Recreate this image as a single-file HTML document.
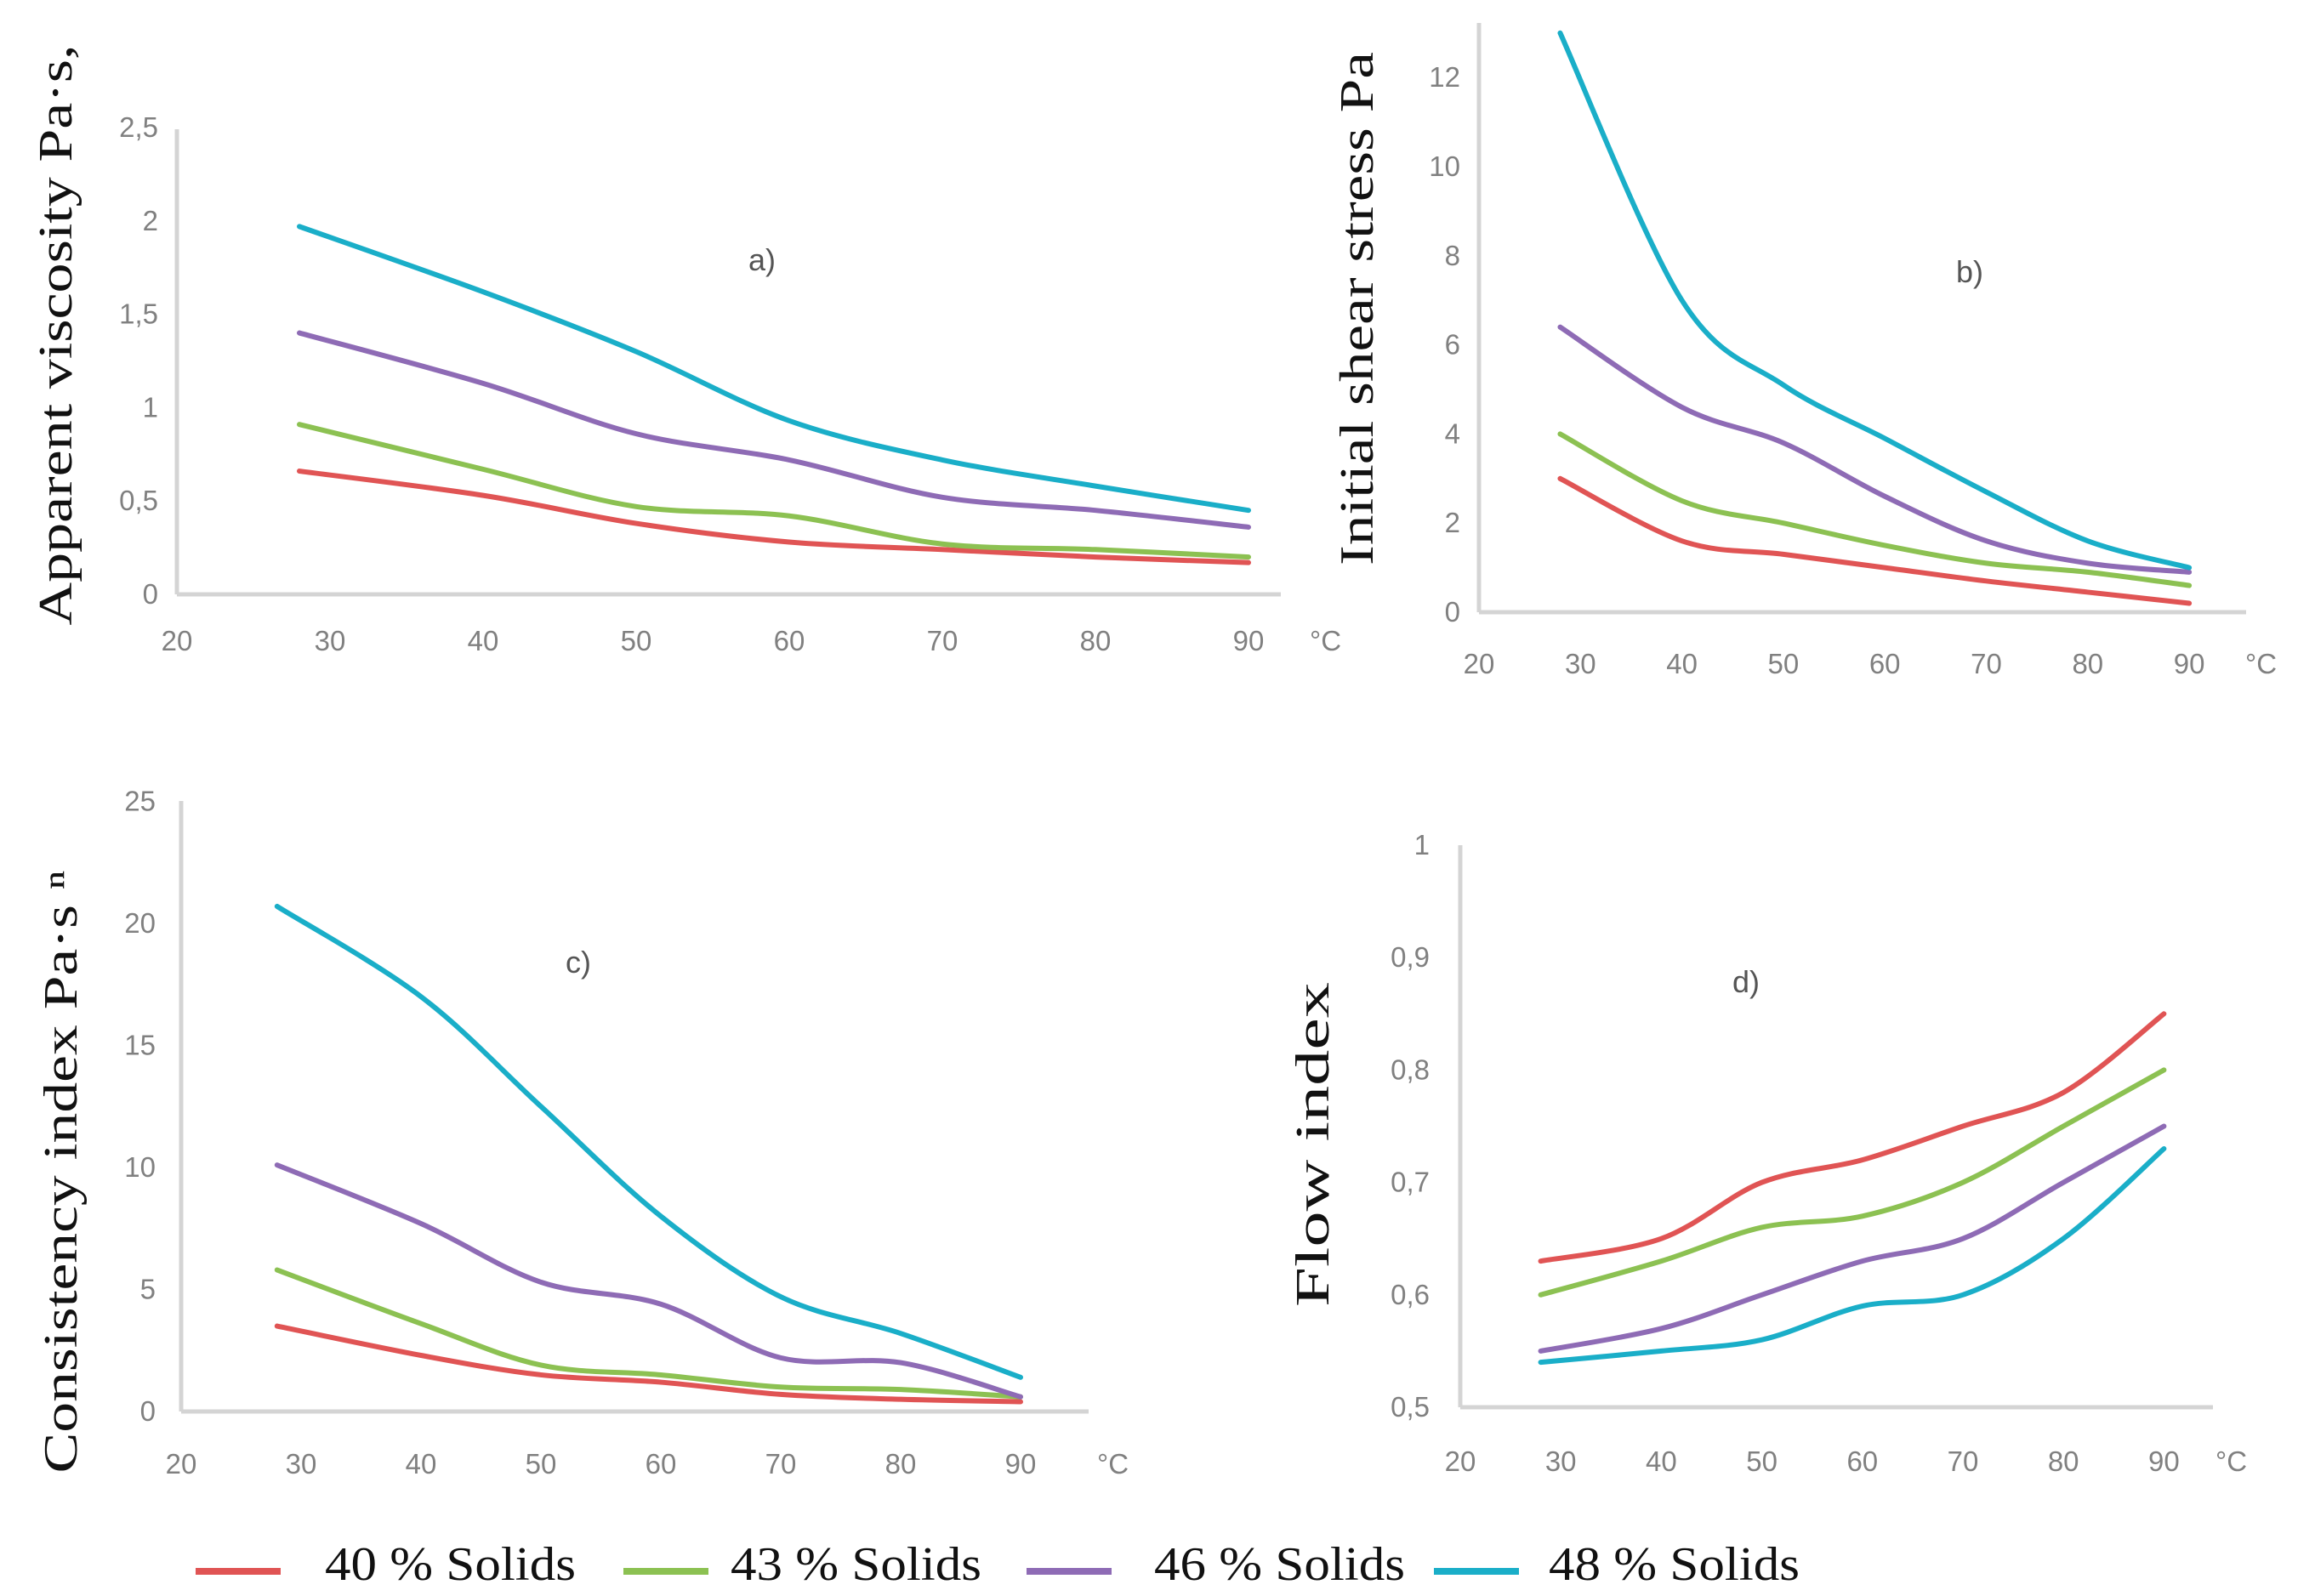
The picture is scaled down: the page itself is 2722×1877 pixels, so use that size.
<!DOCTYPE html>
<html><head><meta charset="utf-8"><style>
html,body{margin:0;padding:0;background:#fff}
svg{display:block}
.tick{font-family:"Liberation Sans",sans-serif;font-size:33px;fill:#808080}
.ylab{font-family:"Liberation Serif",serif;font-size:56px;fill:#111}
.ttl{font-family:"Liberation Sans",sans-serif;font-size:36px;fill:#555}
.leg{font-family:"Liberation Serif",serif;font-size:56px;fill:#111}
</style></head><body>
<svg id="chart" width="2722" height="1877" viewBox="0 0 2722 1877" xmlns="http://www.w3.org/2000/svg"></svg>
<script>
const temps = [28, 40, 50, 60, 70, 80, 90];
const seriesNames = ["40 % Solids", "43 % Solids", "46 % Solids", "48 % Solids"];
const seriesColors = ["#e05454", "#8cc152", "#8e6bb5", "#1aaec8"];
const xTicks = [20, 30, 40, 50, 60, 70, 80, 90];

const viscosity40 = [0.66, 0.53, 0.38, 0.28, 0.24, 0.20, 0.17];
const viscosity43 = [0.91, 0.67, 0.47, 0.42, 0.27, 0.24, 0.20];
const viscosity46 = [1.40, 1.13, 0.86, 0.72, 0.52, 0.45, 0.36];
const viscosity48 = [1.97, 1.62, 1.30, 0.93, 0.72, 0.58, 0.45];
const viscosityTicks = ["0", "0,5", "1", "1,5", "2", "2,5"];

const shear40 = [3.0, 1.6, 1.3, 1.0, 0.7, 0.45, 0.2];
const shear43 = [4.0, 2.5, 2.0, 1.5, 1.1, 0.9, 0.6];
const shear46 = [6.4, 4.6, 3.8, 2.6, 1.6, 1.1, 0.9];
const shear48 = [13.0, 7.0, 5.1, 3.9, 2.7, 1.6, 1.0];
const shearTicks = ["0", "2", "4", "6", "8", "10", "12"];

const consistency40 = [3.5, 2.3, 1.5, 1.2, 0.7, 0.5, 0.4];
const consistency43 = [5.8, 3.6, 1.9, 1.5, 1.0, 0.9, 0.6];
const consistency46 = [10.1, 7.7, 5.3, 4.4, 2.2, 2.0, 0.6];
const consistency48 = [20.7, 17.0, 12.5, 8.0, 4.7, 3.2, 1.4];
const consistencyTicks = ["0", "5", "10", "15", "20", "25"];

const flow40 = [0.63, 0.65, 0.70, 0.72, 0.75, 0.78, 0.85];
const flow43 = [0.60, 0.63, 0.66, 0.67, 0.70, 0.75, 0.80];
const flow46 = [0.55, 0.57, 0.60, 0.63, 0.65, 0.70, 0.75];
const flow48 = [0.54, 0.55, 0.56, 0.59, 0.60, 0.65, 0.73];
const flowTicks = ["0,5", "0,6", "0,7", "0,8", "0,9", "1"];

const svg = document.getElementById('chart');
const NS = 'http://www.w3.org/2000/svg';
function mk(tag, attrs, parent){const e=document.createElementNS(NS,tag);for(const k in attrs)e.setAttribute(k,attrs[k]);(parent||svg).appendChild(e);return e;}

function smoothPath(pts){
  let d='M'+pts[0][0]+','+pts[0][1];
  for(let i=0;i<pts.length-1;i++){
    const p0=pts[Math.max(0,i-1)],p1=pts[i],p2=pts[i+1],p3=pts[Math.min(pts.length-1,i+2)];
    const c1=[p1[0]+(p2[0]-p0[0])/6,p1[1]+(p2[1]-p0[1])/6];
    const c2=[p2[0]-(p3[0]-p1[0])/6,p2[1]-(p3[1]-p1[1])/6];
    d+=' C'+c1[0]+','+c1[1]+' '+c2[0]+','+c2[1]+' '+p2[0]+','+p2[1];
  }
  return d;
}

function panel(cfg){
  const g=mk('g',{});
  
  
  const xs=v=>cfg.x0+(v-20)*cfg.xUnit;
  const ys=v=>cfg.y0-(v-cfg.yMin)*cfg.yUnit;
  const ya=mk('line',{x1:cfg.x0,y1:cfg.axisTop,x2:cfg.x0,y2:cfg.y0,stroke:'#d4d4d4','stroke-width':5},g);
  
  
  const xa=mk('line',{x1:cfg.x0,y1:cfg.y0,x2:cfg.axisRight,y2:cfg.y0,stroke:'#d4d4d4','stroke-width':5},g);
  
  
  cfg.yTicks.forEach((t,i)=>{
    const v=cfg.yMin+i*cfg.yStep;
    const tx=mk('text',{x:cfg.x0-cfg.yLabOff,y:ys(v)+11,'text-anchor':'end',class:'tick'},g);
    tx.textContent=t;
    
    
  });
  xTicks.forEach(t=>{
    const tx=mk('text',{x:xs(t),y:cfg.xLabY,'text-anchor':'middle',class:'tick'},g);
    tx.textContent=t;
    
    
  });
  const u=mk('text',{x:cfg.unitX,y:cfg.xLabY,class:'tick'},g);
  u.textContent='°C';
  
  
  const tt=mk('text',{x:cfg.titleX,y:cfg.titleY,'text-anchor':'middle',class:'ttl'},g);
  tt.textContent=cfg.title;
  
  
  const yl=mk('text',{x:0,y:0,'text-anchor':'middle',class:'ylab',transform:'translate('+cfg.ylX+','+cfg.ylY+') rotate(-90)',textLength:cfg.ylLen,lengthAdjust:'spacingAndGlyphs'},g);
  yl.textContent=cfg.ylabel;
  
  
  cfg.series.forEach((s,i)=>{
    const pts=temps.map((t,j)=>[xs(t),ys(s[j])]);
    const p=mk('path',{d:smoothPath(pts),fill:'none',stroke:seriesColors[i],'stroke-width':6,'stroke-linecap':'round'},g);
    
    
  });
}

panel({name:'panel-a-viscosity',x0:208,xUnit:18.0,y0:699,yMin:0,yStep:0.5,yUnit:219.6,axisTop:152,axisRight:1506,
  yTicks:viscosityTicks,yLabOff:22,xLabY:765,unitX:1540,title:'a)',titleX:896,titleY:318,
  ylabel:'Apparent viscosity Pa·s,',ylX:84,ylY:394,ylLen:683,series:[viscosity40,viscosity43,viscosity46,viscosity48]});
panel({name:'panel-b-shear-stress',x0:1739,xUnit:11.93,y0:720,yMin:0,yStep:2,yUnit:52.4,axisTop:27,axisRight:2641,
  yTicks:shearTicks,yLabOff:22,xLabY:792,unitX:2640,title:'b)',titleX:2316,titleY:332,
  ylabel:'Initial shear stress Pa',ylX:1614,ylY:363,ylLen:604,series:[shear40,shear43,shear46,shear48]});
panel({name:'panel-c-consistency',x0:213,xUnit:14.1,y0:1660,yMin:0,yStep:5,yUnit:28.7,axisTop:942,axisRight:1280,
  yTicks:consistencyTicks,yLabOff:30,xLabY:1733,unitX:1290,title:'c)',titleX:680,titleY:1144,
  ylabel:'Consistency index Pa·s ⁿ',ylX:90,ylY:1378,ylLen:709,series:[consistency40,consistency43,consistency46,consistency48]});
panel({name:'panel-d-flow-index',x0:1717,xUnit:11.82,y0:1655,yMin:0.5,yStep:0.1,yUnit:1322,axisTop:994,axisRight:2602,
  yTicks:flowTicks,yLabOff:36,xLabY:1730,unitX:2605,title:'d)',titleX:2053,titleY:1167,
  ylabel:'Flow index',ylX:1562,ylY:1346,ylLen:382,series:[flow40,flow43,flow46,flow48]});

const legX=[[230,382],[733,859],[1207,1357],[1686,1821]];
seriesNames.forEach((n,i)=>{
  const l=mk('line',{x1:legX[i][0],y1:1848,x2:legX[i][0]+100,y2:1848,stroke:seriesColors[i],'stroke-width':8});
  
  
  const t=mk('text',{x:legX[i][1],y:1858,class:'leg',textLength:295,lengthAdjust:'spacingAndGlyphs'});
  t.textContent=n;
  
  
});
</script>
</body></html>
